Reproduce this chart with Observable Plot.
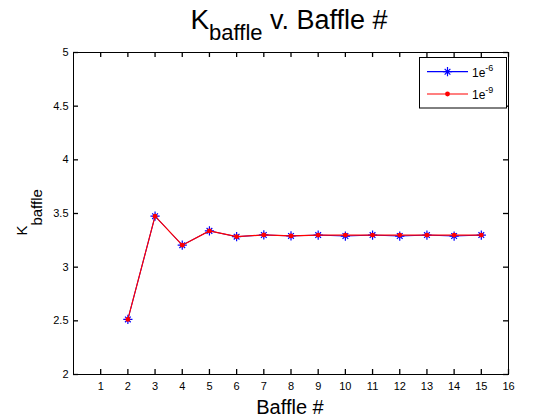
<!DOCTYPE html>
<html><head><meta charset="utf-8">
<script src="https://cdn.jsdelivr.net/npm/d3@7"></script>
<script src="https://cdn.jsdelivr.net/npm/@observablehq/plot@0.6"></script>
<style>body{margin:0;background:#fff}svg{display:block}</style>
</head><body><div id="chart"></div>
<script>
const baffle = [2,3,4,5,6,7,8,9,10,11,12,13,14,15];
const k1e6 = [2.513,3.475,3.205,3.338,3.284,3.300,3.291,3.299,3.290,3.299,3.290,3.299,3.290,3.299];
const k1e9 = [2.513,3.475,3.205,3.338,3.284,3.300,3.291,3.299,3.299,3.299,3.299,3.299,3.299,3.299];
const xTicks = [1,2,3,4,5,6,7,8,9,10,11,12,13,14,15,16];
const yTicks = [2,2.5,3,3.5,4,4.5,5];
const seriesNames = ["1e", "1e"];
const seriesExp = ["-6", "-9"];
const seriesColors = ["#0000ff", "#ff0000"];

const d6 = baffle.map((b, i) => ({b, k: k1e6[i]}));
const d9 = baffle.map((b, i) => ({b, k: k1e9[i]}));

const star = {draw(ctx, size) {
  const r = Math.sqrt(size / Math.PI);
  const d = r * 0.62;
  ctx.moveTo(-r, 0); ctx.lineTo(r, 0);
  ctx.moveTo(0, -r); ctx.lineTo(0, r);
  ctx.moveTo(-d, -d); ctx.lineTo(d, d);
  ctx.moveTo(-d, d); ctx.lineTo(d, -d);
}};

const W = 560, H = 420, mL = 73, mR = 52, mT = 52, mB = 46;
const fw = W - mL - mR, fh = H - mT - mB, tl = 5;
const font = "'Liberation Sans', Arial, Helvetica, sans-serif";
const chart = Plot.plot({
  width: W, height: H,
  marginLeft: mL, marginRight: mR, marginTop: mT, marginBottom: mB,
  style: {fontFamily: font, background: "#fff", color: "#000"},
  x: {domain: [0, 16]},
  y: {domain: [2, 5]},
  marks: [
    Plot.axisX(xTicks, {anchor: "bottom", tickSize: 0, tickPadding: 8, fontSize: 11, label: null, tickFormat: d => String(d)}),
    Plot.axisY(yTicks, {anchor: "left", tickSize: 0, tickPadding: 5, fontSize: 11, label: null, tickFormat: d => String(d)}),
    Plot.ruleX(xTicks, {x: d => d, insetTop: fh - tl, stroke: "#000", strokeWidth: 1.3}),
    Plot.ruleX(xTicks, {x: d => d, insetBottom: fh - tl, stroke: "#000", strokeWidth: 1.3}),
    Plot.ruleY(yTicks, {y: d => d, insetRight: fw - tl, stroke: "#000", strokeWidth: 1.3}),
    Plot.ruleY(yTicks, {y: d => d, insetLeft: fw - tl, stroke: "#000", strokeWidth: 1.3}),
    Plot.frame({stroke: "#000"}),
    Plot.line(d6, {x: "b", y: "k", stroke: seriesColors[0], strokeWidth: 1}),
    Plot.dot(d6, {x: "b", y: "k", symbol: star, r: 4.6, stroke: seriesColors[0], strokeWidth: 1.2, fill: "none"}),
    Plot.line(d9, {x: "b", y: "k", stroke: seriesColors[1], strokeWidth: 1.2}),
    Plot.dot(d9, {x: "b", y: "k", r: 2.4, fill: seriesColors[1], stroke: "none"})
  ]
});
document.getElementById("chart").appendChild(chart);

const svg = d3.select(chart);
const t = svg.append("text").attr("x", 289).attr("y", 28.6).attr("text-anchor", "middle")
  .attr("font-family", font).attr("fill", "#000");
t.append("tspan").attr("font-size", 28).text("K");
t.append("tspan").attr("font-size", 22).attr("dy", 11.8).text("baffle");
t.append("tspan").attr("font-size", 27).attr("dy", -11.8).text(" v. Baffle #");
svg.append("text").attr("x", 290).attr("y", 414).attr("text-anchor", "middle")
  .attr("font-family", font).attr("font-size", 20).attr("fill", "#000").text("Baffle #");
const yl = svg.append("text").attr("transform", "translate(26.7,212.4) rotate(-90)")
  .attr("text-anchor", "middle").attr("font-family", font).attr("fill", "#000");
yl.append("tspan").attr("font-size", 15).text("K");
yl.append("tspan").attr("font-size", 15).attr("dy", 15).text("baffle");
const lg = svg.append("g");
lg.append("rect").attr("x", 419.5).attr("y", 57.5).attr("width", 87).attr("height", 50.5)
  .attr("fill", "#fff").attr("stroke", "#000");
const rowsY = [71.7, 94];
seriesNames.forEach((name, i) => {
  const y = rowsY[i];
  lg.append("line").attr("x1", 427).attr("x2", 468).attr("y1", y).attr("y2", y)
    .attr("stroke", seriesColors[i]).attr("stroke-width", 1.2);
  if (i === 0) {
    const p = d3.path(); star.draw(p, Math.PI * 4.6 * 4.6);
    lg.append("path").attr("d", p.toString()).attr("transform", `translate(447.5,${y})`)
      .attr("stroke", seriesColors[i]).attr("stroke-width", 1.2).attr("fill", "none");
  } else {
    lg.append("circle").attr("cx", 447.5).attr("cy", y).attr("r", 2.4).attr("fill", seriesColors[i]);
  }
  const tx = lg.append("text").attr("x", 472).attr("y", y + 5).attr("text-anchor", "start")
    .attr("font-family", font).attr("fill", "#000");
  tx.append("tspan").attr("font-size", 12).text(name);
  tx.append("tspan").attr("font-size", 9).attr("dy", -6).text(seriesExp[i]);
});
</script>
</body></html>
